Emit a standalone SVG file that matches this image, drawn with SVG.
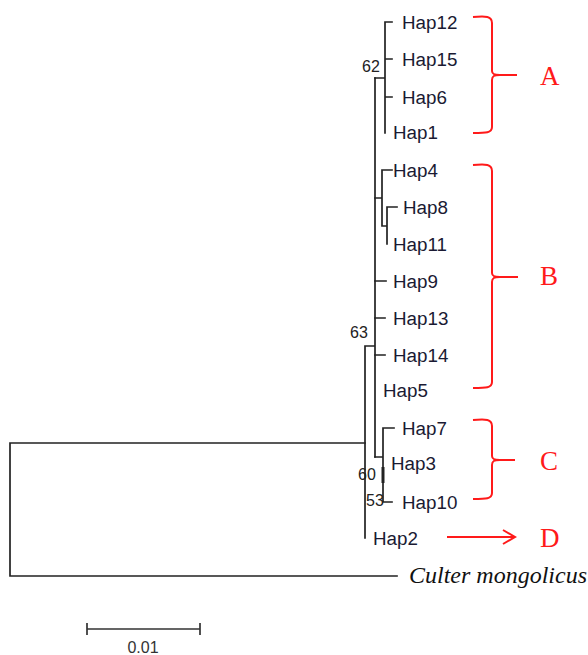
<svg xmlns="http://www.w3.org/2000/svg" width="588" height="655" viewBox="0 0 588 655">
<style>
.br{fill:none;stroke:#222;stroke-width:1.7;stroke-linecap:square}
.lab{font-family:"Liberation Sans",Arial,sans-serif;font-size:18.8px;fill:#1a1a33}
.bs{font-family:"Liberation Sans",Arial,sans-serif;font-size:16px;fill:#222}
.red{fill:none;stroke:#ff1a1a;stroke-width:2}
.grp{font-family:"Liberation Serif","Times New Roman",serif;font-size:27px;fill:#ff1a1a}
</style>
<rect width="588" height="655" fill="#fff"/>
<g id="connectors">
<path class="br" d="M10,443 H365 M10,443 V576 H397"/>
<path class="br" d="M365,346 V538 M365,346 H375 M375,78 V457"/>
<path class="br" d="M375,78 H385 M385,22 V133 M385,22 H392 M385,59 H392 M385,97 H392"/>
<path class="br" d="M375,198 H382 M382,170 V226 M382,170 H392 M382,226 H387 M387,207 V244 M387,207 H397"/>
<path class="br" d="M375,281 H386 M375,318 H385 M375,355 H385"/>
<path class="br" d="M375,457 H383 M383,428 V502 M383,428 H394 M383,502 H392"/>
<path d="M383,467 V483" fill="none" stroke="#222" stroke-width="3"/>
</g>
<g id="bootstrap">
<text class="bs" x="362" y="72">62</text>
<text class="bs" x="350" y="338">63</text>
<text class="bs" x="358" y="480">60</text>
<text class="bs" x="366" y="506">53</text>
</g>
<g id="Hap12"><text class="lab" x="402" y="28.5">Hap12</text></g>
<g id="Hap15"><text class="lab" x="402" y="65.5">Hap15</text></g>
<g id="Hap6"><text class="lab" x="402" y="103.5">Hap6</text></g>
<g id="Hap1"><text class="lab" x="393" y="139">Hap1</text></g>
<g id="Hap4"><text class="lab" x="393" y="176.5">Hap4</text></g>
<g id="Hap8"><text class="lab" x="403" y="213.5">Hap8</text></g>
<g id="Hap11"><text class="lab" x="393" y="250.5">Hap11</text></g>
<g id="Hap9"><text class="lab" x="393" y="287.5">Hap9</text></g>
<g id="Hap13"><text class="lab" x="393" y="324.5">Hap13</text></g>
<g id="Hap14"><text class="lab" x="393" y="361.5">Hap14</text></g>
<g id="Hap5"><text class="lab" x="383" y="397">Hap5</text></g>
<g id="Hap7"><text class="lab" x="402" y="434.5">Hap7</text></g>
<g id="Hap3"><text class="lab" x="391" y="470">Hap3</text></g>
<g id="Hap10"><text class="lab" x="402" y="508.5">Hap10</text></g>
<g id="Hap2"><text class="lab" x="373" y="544.5">Hap2</text></g>
<g id="Culter"><text x="409" y="583" font-family="'Liberation Serif','Times New Roman',serif" font-size="24" font-style="italic" fill="#111">Culter mongolicus</text></g>
<g id="scalebar">
<path d="M87,629 H200 M87,623 V635 M200,623 V635" fill="none" stroke="#333" stroke-width="1.7"/>
<text x="143" y="653" text-anchor="middle" font-family="'Liberation Sans',Arial,sans-serif" font-size="16" fill="#333">0.01</text>
</g>
<g id="groupA">
<path class="red" d="M473,17 C486,16 492,16 492,23 V71 C492,74 494,75 500,75 H517 M500,75 C494,75 492,76 492,80 V127 C492,133 486,133 473,133"/>
<text class="grp" x="540" y="85">A</text>
</g>
<g id="groupB">
<path class="red" d="M473,165 C486,164 492,164 492,171 V273 C492,276 494,277 500,277 H518 M500,277 C494,277 492,278 492,282 V382 C492,388 486,388 473,388"/>
<text class="grp" x="540" y="285">B</text>
</g>
<g id="groupC">
<path class="red" d="M473,420 C486,419 492,419 492,426 V456 C492,459 494,460 500,460 H515 M500,460 C494,460 492,461 492,465 V493 C492,499 486,499 473,499"/>
<text class="grp" x="540" y="470">C</text>
</g>
<g id="groupD">
<path class="red" d="M447,537 H515 M503,530 L515,537 L503,544"/>
<text class="grp" x="540" y="547">D</text>
</g>
</svg>
